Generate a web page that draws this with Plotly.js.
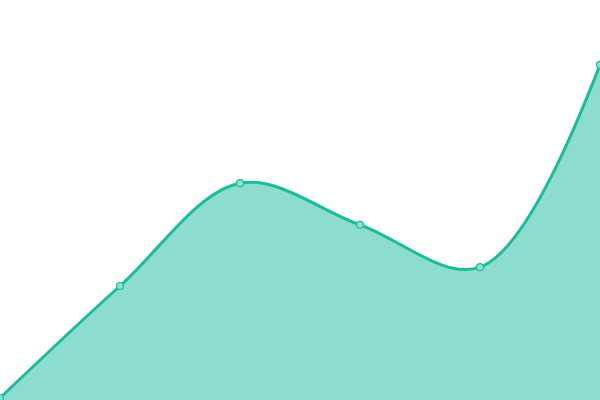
<!DOCTYPE html>
<html>
<head>
<meta charset="utf-8">
<script src="https://cdn.plot.ly/plotly-3.0.1.min.js"></script>
<style>
  html, body { margin: 0; padding: 0; background: #ffffff; }
  #chart { width: 600px; height: 400px; }
</style>
</head>
<body>
<div id="chart"></div>
<script>
var xValues = [0, 1, 2, 3, 4, 5];
var yValues = [0.5, 28.5, 54.2, 43.8, 33.2, 83.8];

var trace = {
    x: xValues,
    y: yValues,
    type: 'scatter',
    mode: 'lines+markers',
    fill: 'tozeroy',
    fillcolor: 'rgba(26,188,156,0.5)',
    line: { color: '#1abc9c', width: 3, shape: 'spline', smoothing: 1 },
    marker: { size: 7, color: '#8ce0cf', line: { color: '#1abc9c', width: 1.2 } },
    hoverinfo: 'none'
};

var layout = {
    width: 600,
    height: 400,
    margin: { l: 0, r: 0, t: 0, b: 0 },
    paper_bgcolor: '#ffffff',
    plot_bgcolor: '#ffffff',
    showlegend: false,
    xaxis: { range: [0, 5], visible: false, fixedrange: true },
    yaxis: { range: [0, 100], visible: false, fixedrange: true }
};

Plotly.newPlot('chart', [trace], layout, { displayModeBar: false, staticPlot: true });
</script>
</body>
</html>
